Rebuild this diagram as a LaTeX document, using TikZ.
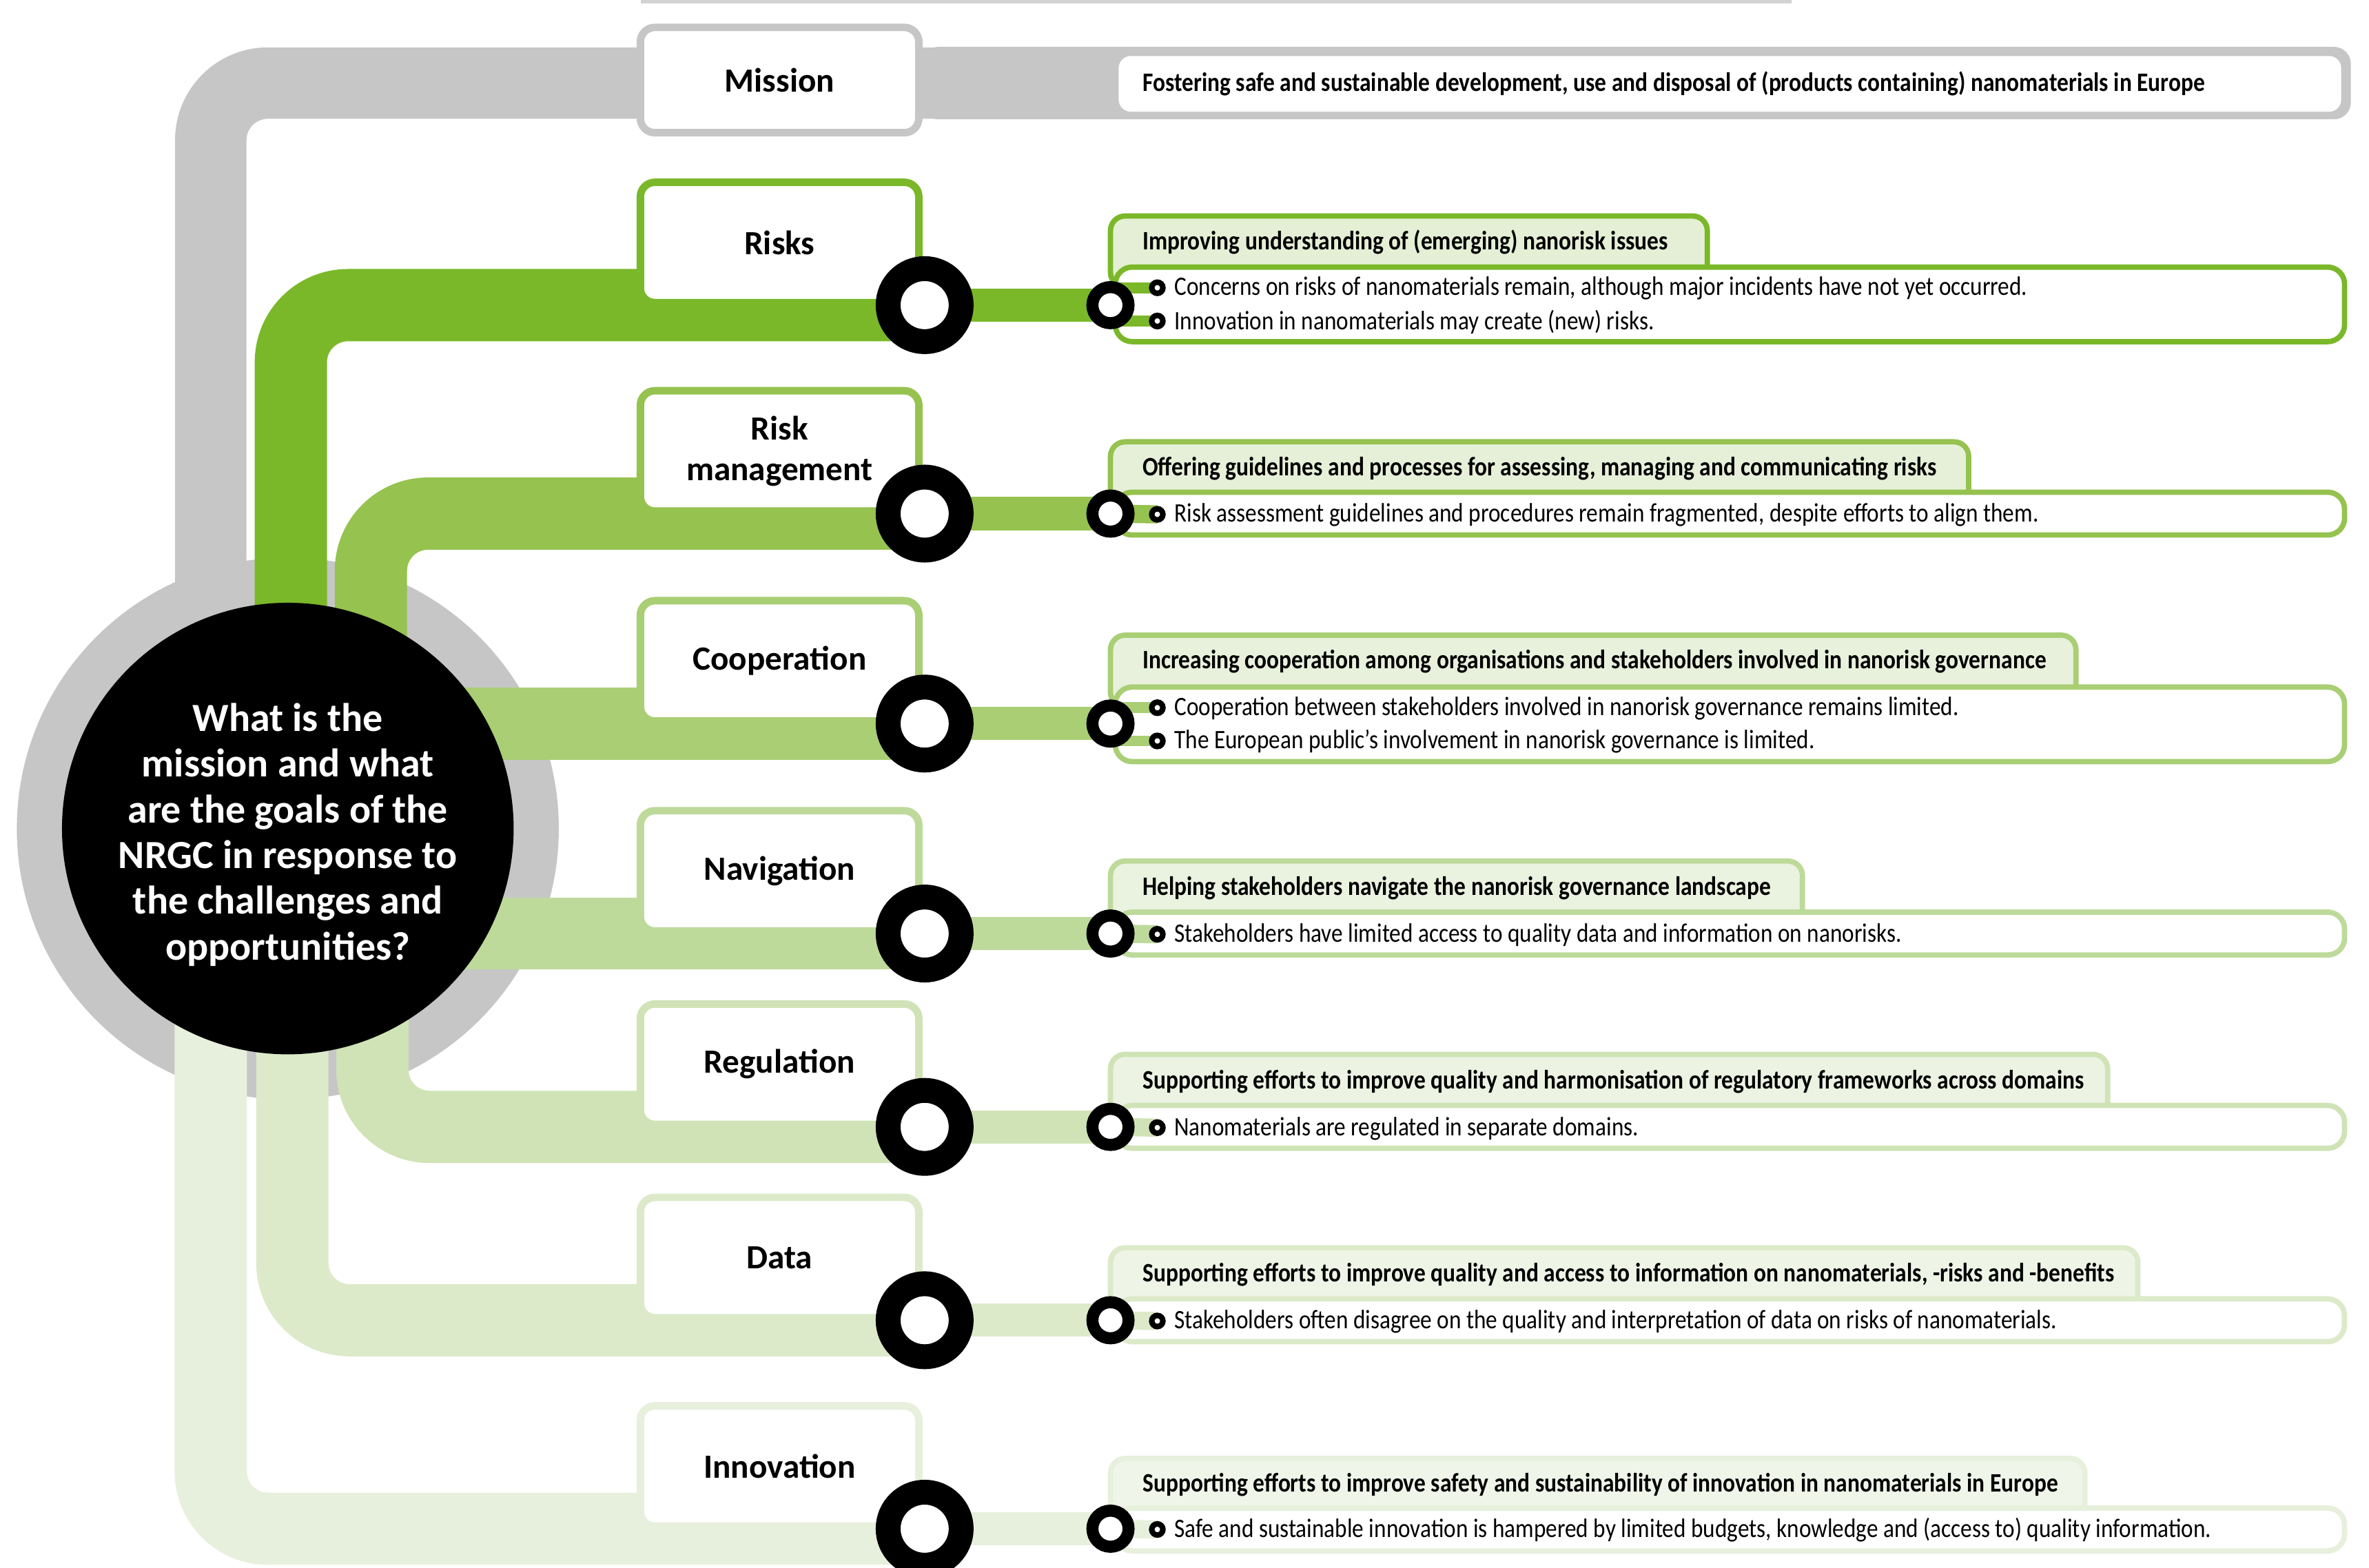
\documentclass[tikz,border=0pt]{standalone}
\usepackage{fontspec}
\setmainfont{Carlito}
\newfontfamily\condfont{Carlito}[FakeStretch=0.86]
\newfontfamily\condheadfont{Carlito}[FakeStretch=0.865]
\definecolor{cgray}{HTML}{C6C6C6}
\definecolor{c1}{HTML}{7AB829}
\definecolor{c2}{HTML}{96C24F}
\definecolor{c3}{HTML}{A9CE74}
\definecolor{c4}{HTML}{BEDA9B}
\definecolor{c5}{HTML}{D0E3B6}
\definecolor{c6}{HTML}{DCEACA}
\definecolor{c7}{HTML}{E7F0DC}
\definecolor{t1}{HTML}{E4EFD5}
\definecolor{t2}{HTML}{E6F0D9}
\definecolor{t3}{HTML}{E8F1DC}
\definecolor{t4}{HTML}{EAF2E0}
\definecolor{t5}{HTML}{ECF3E3}
\definecolor{t6}{HTML}{EEF4E6}
\definecolor{t7}{HTML}{F0F5E9}
\begin{document}
\begin{tikzpicture}[x=0.021926cm, y=-0.021926cm,
  band/.style={line width=29.84pt, rounded corners=23.6pt},
  narrow/.style={line width=13.7pt},
  link/.style={line width=7.5pt},
  linkthin/.style={line width=4.5pt},
  catbox/.style={rectangle, rounded corners=6pt, fill=white, line width=3.1pt, minimum width=115pt, minimum height=49.7pt, font=\bfseries\fontsize{14}{16.8}\selectfont, align=center, inner sep=0pt},
  bigring/.style={circle, draw=black, fill=white, line width=10.26pt, minimum size=30.15pt, inner sep=0pt},
  smallring/.style={circle, draw=black, fill=white, line width=4.97pt, minimum size=14.92pt, inner sep=0pt},
  dotring/.style={circle, draw=black, fill=white, line width=2.3pt, minimum size=4.6pt, inner sep=0pt},
  textbox/.style={rectangle, rounded corners=7pt, fill=white, line width=2.2pt, minimum width=507.6pt, inner sep=0pt},
  tabbox/.style={rounded corners=6pt, line width=2.2pt},
  headtext/.style={anchor=west, inner sep=0pt, font=\condheadfont\bfseries\fontsize{11}{13}\selectfont},
  bodytext/.style={anchor=west, inner sep=0pt, font=\condfont\fontsize{11}{13}\selectfont},
]
\useasboundingbox (0,0) rectangle (1568,1038);
\clip (0,0) rectangle (1568,1038);
% top shadow
\fill[gray!35] (424,0) rectangle (1186,2.5);
% gray ring
\fill[cgray] (190.5,548.5) circle[radius=111.9pt];
% mission track
\draw[band, cgray, line width=29.5pt] (139.5,548) |- (1530,55);
\fill[cgray, rounded corners=7pt] (610,31) rectangle (1556,79);
\node[rectangle, rounded corners=5pt, fill=white, minimum width=504.8pt, minimum height=23pt, inner sep=0pt] (mbox) at (1145,55.5) {};
\node[headtext] (mtext) at (756,55.5) {Fostering safe and sustainable development, use and disposal of (products containing) nanomaterials in Europe};
\node[catbox, draw=cgray, minimum height=43.5pt] (mission) at (516,53) {Mission};
% coordinates of the rings
\coordinate (R1) at (612,202);  \coordinate (S1) at (735,202);
\coordinate (R2) at (612,340);  \coordinate (S2) at (735,340);
\coordinate (R3) at (612,479);  \coordinate (S3) at (735,479);
\coordinate (R4) at (612,618);  \coordinate (S4) at (735,618);
\coordinate (R5) at (612,746);  \coordinate (S5) at (735,746);
\coordinate (R6) at (612,874);  \coordinate (S6) at (735,874);
\coordinate (R7) at (612,1012); \coordinate (S7) at (735,1012);
% wide bands
\draw[band, c7] (139.5,548) |- (R7);
\draw[band, c6] (193.5,548) |- (R6);
\draw[band, c5] (246.5,548) |- (R5);
\draw[band, c4] (190,618) -- (R4);
\draw[band, c3] (190,479) -- (R3);
\draw[band, c2] (245.5,548) |- (R2);
\draw[band, c1] (192.5,548) |- (R1);
% central question
\fill[black] (190.5,548.5) circle[radius=93.25pt];
\node[inner sep=0pt, text=white, align=center,
  font=\bfseries\fontsize{16.5}{18.9}\selectfont] (q) at (190.5,552.5)
  {What is the\\mission and what\\are the goals of the\\NRGC in response to\\the challenges and\\opportunities?};
% category boxes
\node[catbox, draw=c1] (risks) at (516,160.5) {Risks};
\node[catbox, draw=c2] (riskman) at (516,298.5) {Risk\\management};
\node[catbox, draw=c3] (coop) at (516,437.5) {Cooperation};
\node[catbox, draw=c4] (nav) at (516,576.5) {Navigation};
\node[catbox, draw=c5] (reg) at (516,704.5) {Regulation};
\node[catbox, draw=c6] (data) at (516,832.5) {Data};
\node[catbox, draw=c7] (innov) at (516,970.5) {Innovation};
% narrow bands
\draw[narrow, c1] (R1) -- (S1);
\draw[narrow, c2] (R2) -- (S2);
\draw[narrow, c3] (R3) -- (S3);
\draw[narrow, c4] (R4) -- (S4);
\draw[narrow, c5] (R5) -- (S5);
\draw[narrow, c6] (R6) -- (S6);
\draw[narrow, c7] (R7) -- (S7);
% big rings
\node[bigring] (ring1) at (R1) {};
\node[bigring] (ring2) at (R2) {};
\node[bigring] (ring3) at (R3) {};
\node[bigring] (ring4) at (R4) {};
\node[bigring] (ring5) at (R5) {};
\node[bigring] (ring6) at (R6) {};
\node[bigring] (ring7) at (R7) {};
% tabs
\filldraw[tabbox, fill=t1, draw=c1] (735,190) rectangle (1130,143);
\filldraw[tabbox, fill=t2, draw=c2] (735,335) rectangle (1303,292.5);
\filldraw[tabbox, fill=t3, draw=c3] (735,468) rectangle (1374,420.5);
\filldraw[tabbox, fill=t4, draw=c4] (735,612) rectangle (1193,570);
\filldraw[tabbox, fill=t5, draw=c5] (735,740) rectangle (1395,698);
\filldraw[tabbox, fill=t6, draw=c6] (735,868) rectangle (1415,826);
\filldraw[tabbox, fill=t7, draw=c7] (735,1007) rectangle (1380,965.5);
% text boxes
\node[textbox, draw=c1, minimum height=30.8pt] (box1) at (1145,201.5) {};
\node[textbox, draw=c2, minimum height=17.7pt] (box2) at (1145,340) {};
\node[textbox, draw=c3, minimum height=30.8pt] (box3) at (1145,479.5) {};
\node[textbox, draw=c4, minimum height=17.7pt] (box4) at (1145,618) {};
\node[textbox, draw=c5, minimum height=17.7pt] (box5) at (1145,746) {};
\node[textbox, draw=c6, minimum height=17.7pt] (box6) at (1145,874) {};
\node[textbox, draw=c7, minimum height=17.7pt] (box7) at (1145,1012.5) {};
% bullets
\coordinate (B11) at (766,190.5); \coordinate (B12) at (766,212.5);
\coordinate (B2) at (766,340.5);
\coordinate (B31) at (766,468.5); \coordinate (B32) at (766,490.5);
\coordinate (B4) at (766,618.5);
\coordinate (B5) at (766,746.5);
\coordinate (B6) at (766,874.5);
\coordinate (B7) at (766,1012.5);
\draw[linkthin, c1] (S1 |- B11) -- (B11);
\draw[linkthin, c1] (S1 |- B12) -- (B12);
\draw[link, c2] (S2) -- (B2);
\draw[linkthin, c3] (S3 |- B31) -- (B31);
\draw[linkthin, c3] (S3 |- B32) -- (B32);
\draw[link, c4] (S4) -- (B4);
\draw[link, c5] (S5) -- (B5);
\draw[link, c6] (S6) -- (B6);
\draw[link, c7] (S7) -- (B7);
% small rings
\node[smallring] (sr1) at (S1) {};
\node[smallring] (sr2) at (S2) {};
\node[smallring] (sr3) at (S3) {};
\node[smallring] (sr4) at (S4) {};
\node[smallring] (sr5) at (S5) {};
\node[smallring] (sr6) at (S6) {};
\node[smallring] (sr7) at (S7) {};
\node[dotring] (b11) at (B11) {};
\node[dotring] (b12) at (B12) {};
\node[dotring] (b2) at (B2) {};
\node[dotring] (b31) at (B31) {};
\node[dotring] (b32) at (B32) {};
\node[dotring] (b4) at (B4) {};
\node[dotring] (b5) at (B5) {};
\node[dotring] (b6) at (B6) {};
\node[dotring] (b7) at (B7) {};
% headers
\node[headtext] (h1) at (756,160.5) {Improving understanding of (emerging) nanorisk issues};
\node[headtext] (h2) at (756,310) {Offering guidelines and processes for assessing, managing and communicating risks};
\node[headtext] (h3) at (756,438) {Increasing cooperation among organisations and stakeholders involved in nanorisk governance};
\node[headtext] (h4) at (756,588) {Helping stakeholders navigate the nanorisk governance landscape};
\node[headtext] (h5) at (756,716) {Supporting efforts to improve quality and harmonisation of regulatory frameworks across domains};
\node[headtext] (h6) at (756,844) {Supporting efforts to improve quality and access to information on nanomaterials, -risks and -benefits};
\node[headtext] (h7) at (756,983) {Supporting efforts to improve safety and sustainability of innovation in nanomaterials in Europe};
% body texts
\node[bodytext] (x11) at (777,191) {Concerns on risks of nanomaterials remain, although major incidents have not yet occurred.};
\node[bodytext] (x12) at (777,213) {Innovation in nanomaterials may create (new) risks.};
\node[bodytext] (x2) at (777,341) {Risk assessment guidelines and procedures remain fragmented, despite efforts to align them.};
\node[bodytext] (x31) at (777,469) {Cooperation between stakeholders involved in nanorisk governance remains limited.};
\node[bodytext] (x32) at (777,491) {The European public’s involvement in nanorisk governance is limited.};
\node[bodytext] (x4) at (777,619) {Stakeholders have limited access to quality data and information on nanorisks.};
\node[bodytext] (x5) at (777,747) {Nanomaterials are regulated in separate domains.};
\node[bodytext] (x6) at (777,875) {Stakeholders often disagree on the quality and interpretation of data on risks of nanomaterials.};
\node[bodytext] (x7) at (777,1013) {Safe and sustainable innovation is hampered by limited budgets, knowledge and (access to) quality information.};
\end{tikzpicture}
\end{document}
